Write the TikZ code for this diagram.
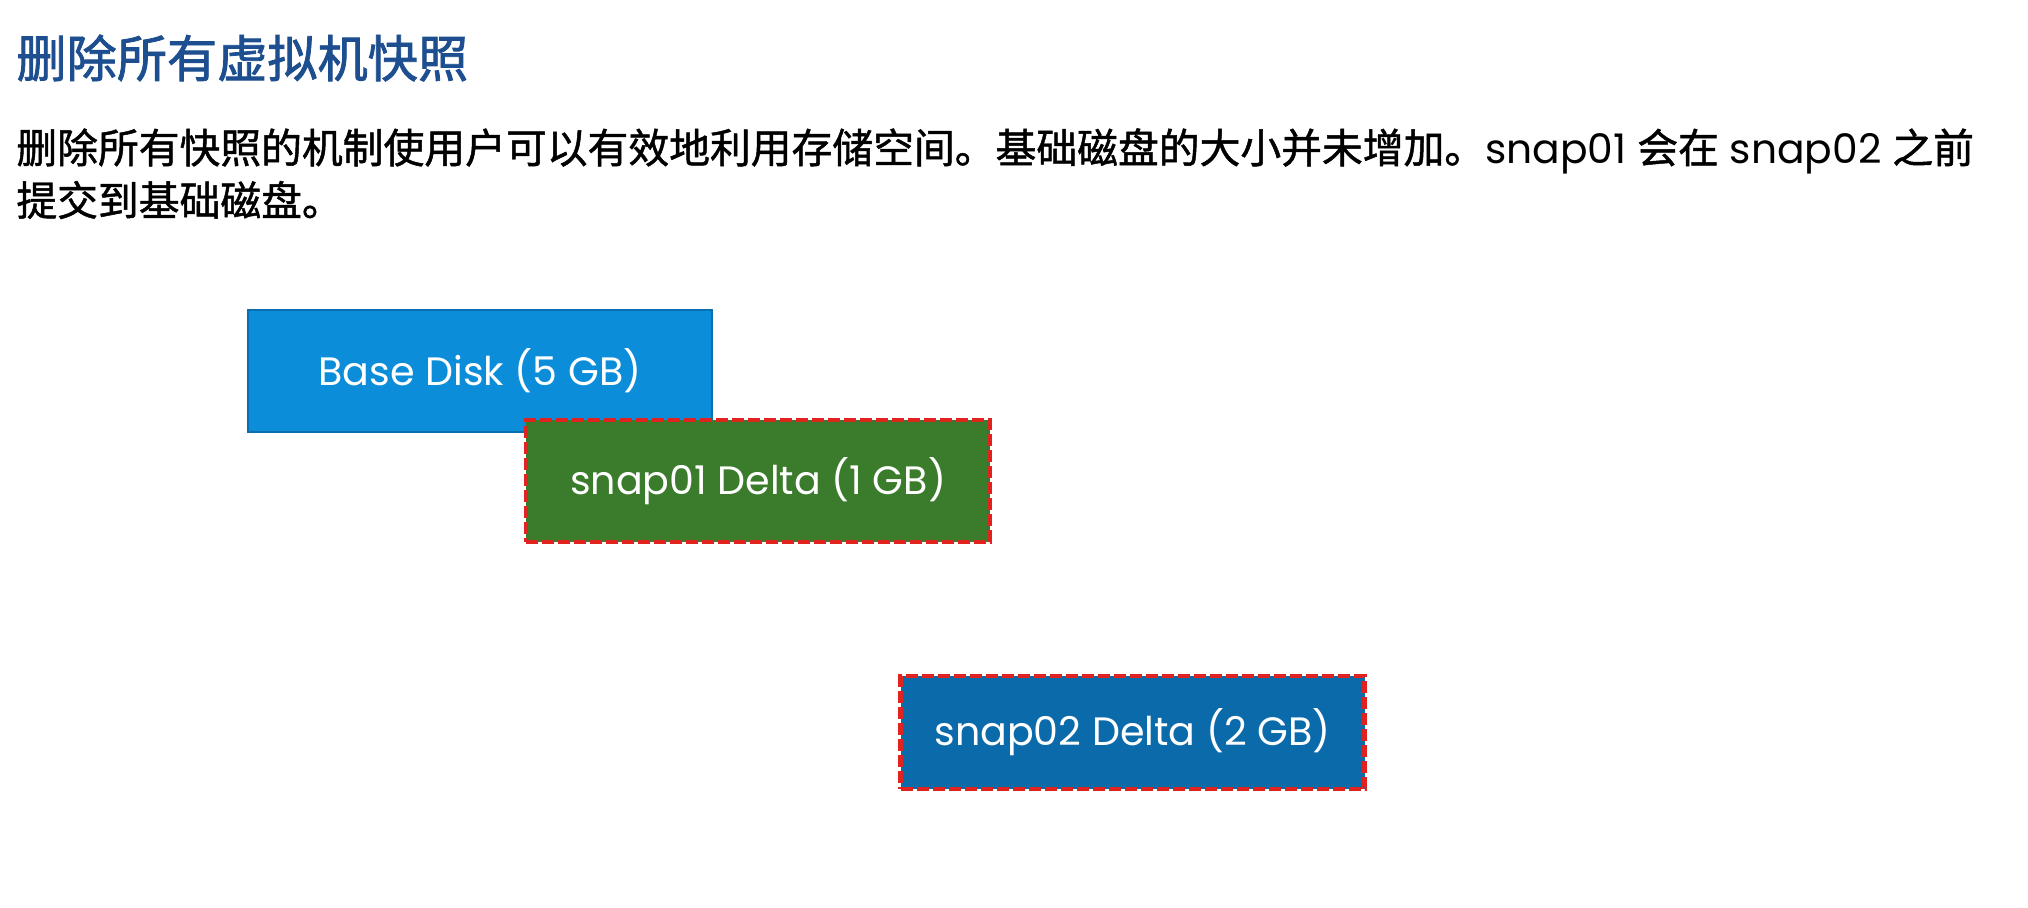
\documentclass[tikz,border=0pt]{standalone}
\usepackage{fontspec}
\setmainfont{Poppins}
\newfontfamily\cjk[FakeBold=1.2]{Noto Sans CJK SC}
\newfontfamily\cjktitle[FakeBold=1.6]{Noto Sans CJK SC}
\usetikzlibrary{positioning}
\definecolor{vmtitle}{HTML}{1D4E8F}
\definecolor{diskblue}{HTML}{0B8DDA}
\definecolor{diskedge}{HTML}{0A6FB0}
\definecolor{snapgreen}{HTML}{3B7C2C}
\definecolor{snapblue}{HTML}{0A6AAA}
\definecolor{snapred}{HTML}{E0231F}
\tikzset{
  % base disk box style
  disk/.style={
    draw=diskedge
    , fill=diskblue
    , text=white
    , line width=0.8pt
    , anchor=center
    , text centered
    , minimum width=232pt
    , minimum height=61pt
    , font=\fontsize{19.8}{22}\selectfont
  },
}
\tikzset{
  % snapshot delta box style
  snap/.style={
    disk
    , draw=snapred
    , line width=2.2pt
    , dash pattern=on 6pt off 2pt
    %, rounded corners
  },
}

\begin{document}
\begin{tikzpicture}[x=0.5pt, y=-0.5pt]
      \useasboundingbox (0,0) rectangle (2028,907);
      \fill[white] (0,0) rectangle (2028,907);

      \node[anchor=west, inner sep=0, text=vmtitle, font=\cjktitle\fontsize{25.1}{30}\selectfont] (title) at (16,58) {删除所有虚拟机快照};
      \node[anchor=west, inner sep=0, font=\fontsize{20.4}{24}\selectfont] (line1) at (16,151)
        {{\cjk 删除所有快照的机制使用户可以有效地利用存储空间。基础磁盘的大小并未增加。}snap01 {\cjk 会在} snap02 {\cjk 之前}};
      \node[anchor=west, inner sep=0, font=\cjk\fontsize{20.4}{24}\selectfont] (line2) at (16,200) {提交到基础磁盘。};

      \node[disk] (base) at (480,371) {Base Disk (5 GB)};
      \node[snap, fill=snapgreen, below of=base, node distance=55pt, xshift=139pt] (snap1) {snap01 Delta (1 GB)};
      \node[snap, fill=snapblue, minimum height=56.5pt, below of=snap1, node distance=125.75pt, xshift=187.25pt] (snap2) {snap02 Delta (2 GB)};
\end{tikzpicture}
\end{document}
